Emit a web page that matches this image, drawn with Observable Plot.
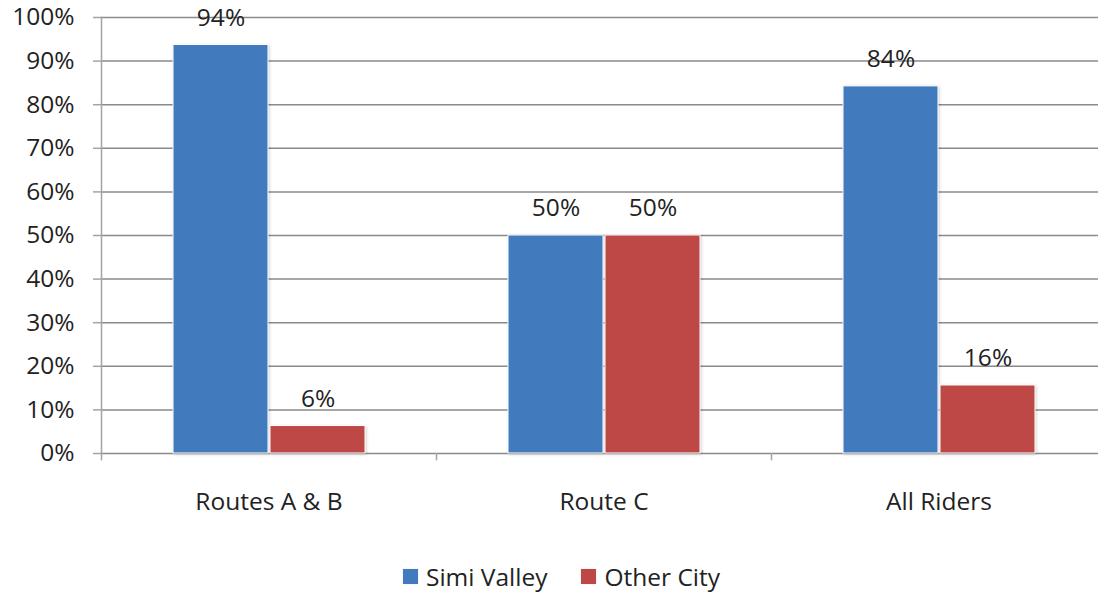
<!DOCTYPE html>
<html>
<head>
<meta charset="utf-8">
<script src="https://cdn.jsdelivr.net/npm/d3@7"></script>
<script src="https://cdn.jsdelivr.net/npm/@observablehq/plot@0.6"></script>
<style>
  html, body { margin: 0; padding: 0; background: #fff; }
  body { width: 1098px; height: 592px; overflow: hidden; font-family: "Open Sans", sans-serif; }
  #legend { display: flex; justify-content: center; align-items: center; height: 62px; padding-left: 25px; font-size: 24.5px; color: #222; }
  .item { display: flex; align-items: center; }
  .sw { width: 15px; height: 15px; margin-right: 8px; box-shadow: 0 0 1px #ccc; }
  .item + .item { margin-left: 34px; }
  rect.bar { filter: drop-shadow(1px 1px 1.5px rgba(0,0,0,0.18)); }
</style>
</head>
<body>
<div id="chart"></div>
<div id="legend"></div>
<script>
const categories = ["Routes A & B", "Route C", "All Riders"];
const series = ["Simi Valley", "Other City"];
const colors = ["#427bbd", "#be4846"];
const simiValley = [93.7, 50, 84.2];
const otherCity = [6.3, 50, 15.6];
const yTicks = [0, 10, 20, 30, 40, 50, 60, 70, 80, 90, 100];

const rows = categories.flatMap((c, i) => [
  {category: c, series: series[0], value: simiValley[i]},
  {category: c, series: series[1], value: otherCity[i]}
]);
const blue = rows.filter(d => d.series === series[0]);
const red = rows.filter(d => d.series === series[1]);
const FS = 24.5;

const chart = Plot.plot({
  width: 1098,
  height: 545,
  marginLeft: 101,
  marginRight: -8,
  marginTop: 17,
  marginBottom: 92,
  style: {fontFamily: "'Open Sans', sans-serif", fontSize: FS + "px", color: "#222", background: "white", overflow: "visible"},
  x: {domain: categories, padding: 0, axis: null},
  y: {domain: [0, 100], axis: null},
  color: {domain: series, range: colors},
  marks: [
    Plot.ruleY(yTicks, {stroke: "#8a8a8a", strokeWidth: 1.5}),
    Plot.frame({anchor: "left", stroke: "#a3a3a3", strokeWidth: 1.5}),
    Plot.ruleX(categories, {x: d => d, dx: -167.5, y1: 0, y2: -1.7, stroke: "#a3a3a3", strokeWidth: 1.5}),
    Plot.axisY({ticks: yTicks, tickSize: 8, tickPadding: 19, tickFormat: d => d + "%", stroke: "#a3a3a3", strokeWidth: 1.5, fill: "#222", fontSize: FS, label: null}),
    Plot.axisX({tickSize: 0, tickPadding: 39, fill: "#222", fontSize: FS, label: null}),
    Plot.barY(blue, {x: "category", y: "value", fill: "series", insetLeft: 72, insetRight: 168, stroke: "white", strokeWidth: 1}),
    Plot.barY(red, {x: "category", y: "value", fill: "series", insetLeft: 169, insetRight: 71, stroke: "white", strokeWidth: 1}),
    Plot.text(blue, {x: "category", y: "value", text: d => Math.round(d.value) + "%", dx: -48, dy: -27, fill: "#222", fontSize: FS}),
    Plot.text(red, {x: "category", y: "value", text: d => Math.round(d.value) + "%", dx: 49, dy: -27, fill: "#222", fontSize: FS})
  ]
});
chart.querySelectorAll("g[aria-label='bar'] rect").forEach(r => r.classList.add("bar"));
document.getElementById("chart").appendChild(chart);

const legend = document.getElementById("legend");
series.forEach((s, i) => {
  const item = document.createElement("div");
  item.className = "item";
  const sw = document.createElement("span");
  sw.className = "sw";
  sw.style.background = colors[i];
  const label = document.createElement("span");
  label.textContent = s;
  item.appendChild(sw);
  item.appendChild(label);
  legend.appendChild(item);
});
</script>
</body>
</html>
